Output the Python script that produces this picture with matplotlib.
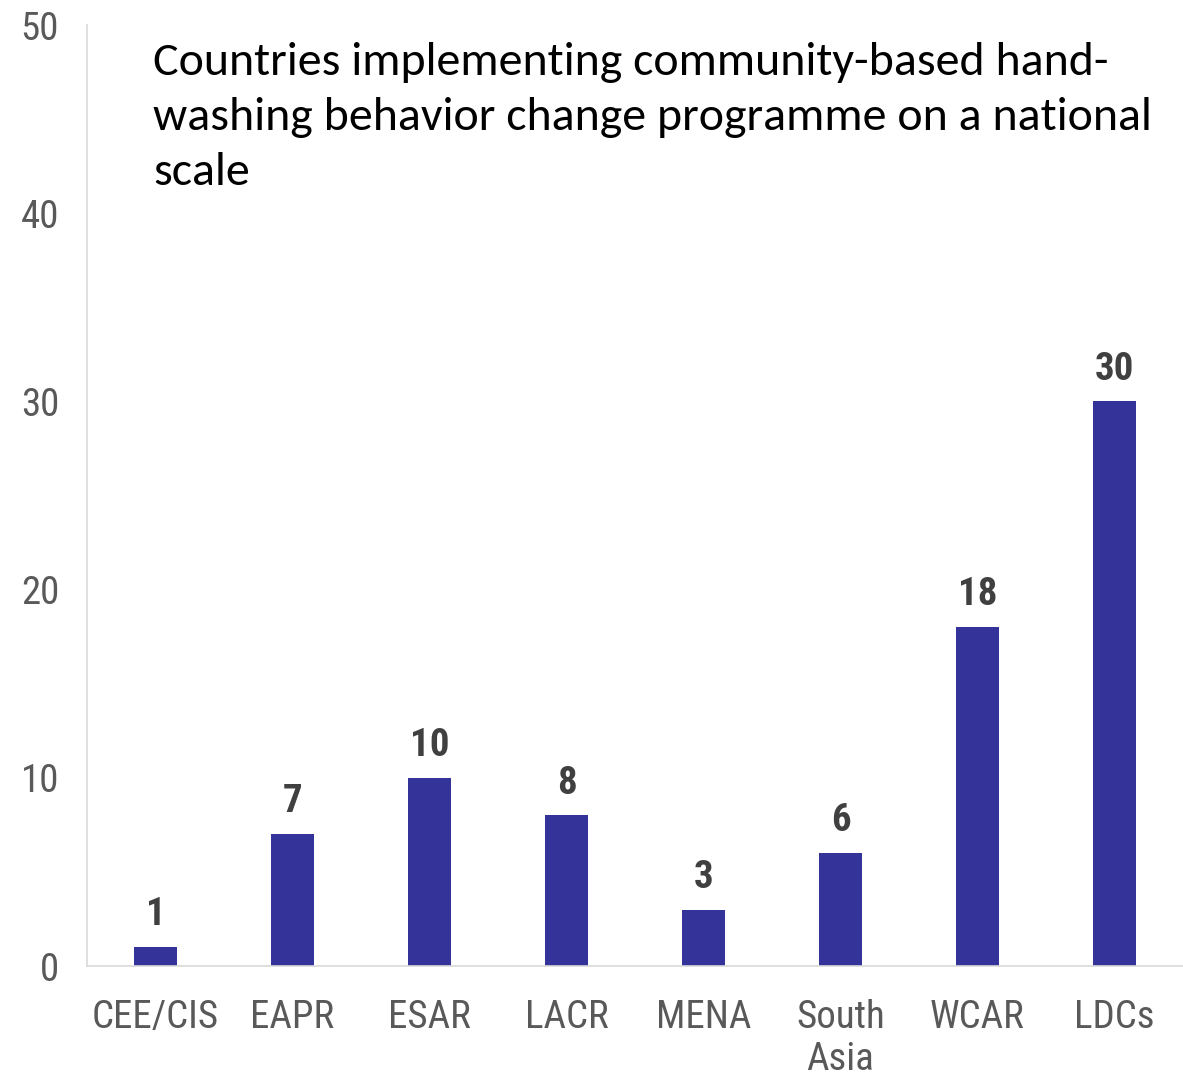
import matplotlib
matplotlib.use('Agg')
import matplotlib.pyplot as plt
import numpy as np

# Regional counts of countries running the programme at national scale
regions = ['CEE/CIS', 'EAPR', 'ESAR', 'LACR', 'MENA', 'South\nAsia', 'WCAR', 'LDCs']
counts = [1, 7, 10, 8, 3, 6, 18, 30]
y_ticks = [0, 10, 20, 30, 40, 50]

BAR_COLOR = '#343399'
TICK_COLOR = '#595959'
LABEL_COLOR = '#404040'
SPINE_COLOR = '#D9D9D9'
NARROW = ['Roboto Condensed', 'Liberation Sans', 'DejaVu Sans']
TITLE_FONT = ['Carlito', 'Open Sans', 'DejaVu Sans']

fig = plt.figure(figsize=(11.83, 10.79), dpi=100)
ax = fig.add_axes([0.0735, 0.1047, 0.9265, 0.872])

x = np.arange(len(regions))
bars = ax.bar(x, counts, width=0.31, color=BAR_COLOR)

for xi, v in zip(x, counts):
    ax.annotate(str(v), xy=(xi, v), xytext=(0, 10), textcoords='offset points',
                ha='center', va='bottom', fontsize=28, fontweight='bold',
                color=LABEL_COLOR, family=NARROW)

ax.set_xlim(-0.5, len(regions) - 0.5)
ax.set_ylim(0, 50)
ax.set_yticks(y_ticks)
ax.set_xticks(x)
ax.set_xticklabels(regions, linespacing=1.15)

for lab in ax.get_xticklabels() + ax.get_yticklabels():
    lab.set_family(NARROW)
    lab.set_fontsize(28)
    lab.set_color(TICK_COLOR)

ax.tick_params(axis='x', length=0, pad=24)
ax.tick_params(axis='y', length=0, pad=20)

for side in ('top', 'right'):
    ax.spines[side].set_visible(False)
for side in ('left', 'bottom'):
    ax.spines[side].set_color(SPINE_COLOR)
    ax.spines[side].set_linewidth(1.2)

fig.text(153 / 1183, 1 - 42 / 1079,
         'Countries implementing community-based hand-\n'
         'washing behavior change programme on a national\n'
         'scale',
         ha='left', va='top', fontsize=34.5, color='black',
         family=TITLE_FONT, linespacing=1.43)

fig.savefig('out.png', dpi=100, facecolor='white')
